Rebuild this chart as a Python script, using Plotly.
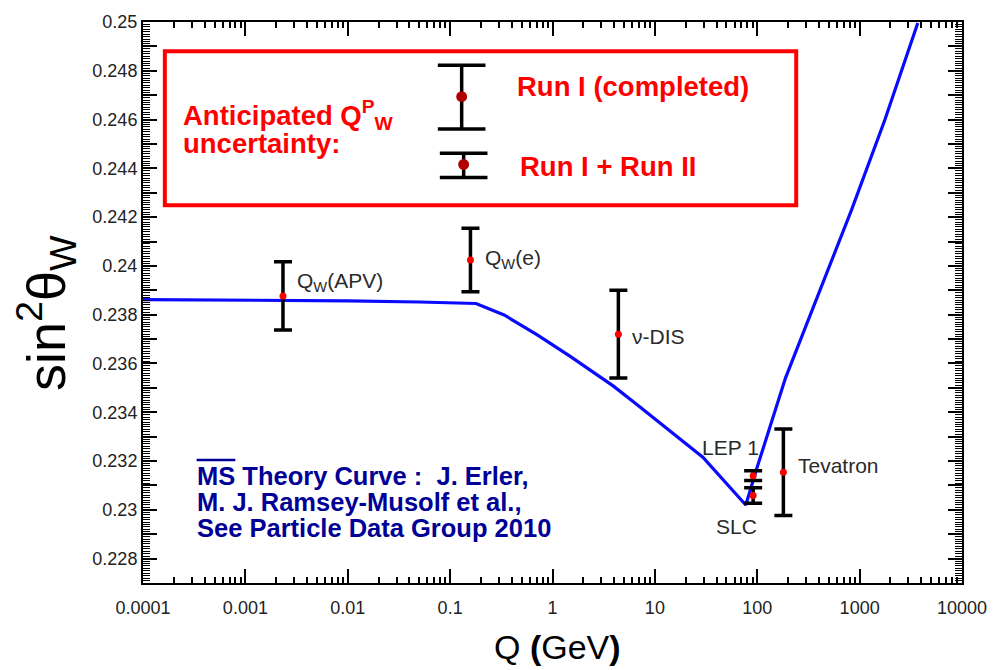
import plotly.graph_objects as go
import numpy as np

# ---------------- data ----------------
curve_Q = [1e-4, 1e-3, 1e-2, 0.05, 0.1, 0.179, 0.337, 0.71, 1.49, 3.94, 6.62,
           13.9, 29.4, 77.3, 100, 189, 396, 836, 1758, 3698]
curve_s2w = [0.23862, 0.23860, 0.23857, 0.23852, 0.23849, 0.23846, 0.23799,
             0.23717, 0.23629, 0.23507, 0.23433, 0.23325, 0.23216, 0.23020,
             0.23176, 0.23541, 0.23880, 0.24231, 0.24597, 0.24996]

pt_labels = ["Q<sub>W</sub>(APV)", "Q<sub>W</sub>(e)", "ν-DIS", "LEP 1", "SLC", "Tevatron"]
pt_Q = [0.00233, 0.158, 4.4, 91.2, 91.2, 180]
pt_s2w = [0.23877, 0.24024, 0.2372, 0.2314, 0.23059, 0.23154]
pt_err = [0.0014, 0.0013, 0.0018, 0.0002, 0.00032, 0.00177]

x_tickvals = [1e-4, 1e-3, 1e-2, 0.1, 1, 10, 100, 1000, 10000]
x_ticktext = ["0.0001", "0.001", "0.01", "0.1", "1", "10", "100", "1000", "10000"]
y_tickvals = [0.228, 0.23, 0.232, 0.234, 0.236, 0.238, 0.24, 0.242, 0.244, 0.246, 0.248, 0.25]
y_ticktext = ["0.228", "0.23", "0.232", "0.234", "0.236", "0.238", "0.24",
              "0.242", "0.244", "0.246", "0.248", "0.25"]
y_mid_ticks = [0.227, 0.229, 0.231, 0.233, 0.235, 0.237, 0.239, 0.241, 0.243,
               0.245, 0.247, 0.249]
x_minor = [m * 10.0 ** e for e in range(-4, 4) for m in range(2, 10)]

# ---------------- layout helpers (pixel -> paper) ----------------
W, H = 999, 670
X0, X1, Y0, Y1 = 143, 968, 17, 583
XR = [-4, 4]
YR = [0.227, 0.25]


def px(x):
    return (x - X0) / (X1 - X0)


def py(y):
    return (Y1 - y) / (Y1 - Y0)


FONT = "Liberation Sans, Arial, Helvetica, sans-serif"
RED = "#ff0000"
NAVY = "#000096"

fig = go.Figure()

fig.add_trace(go.Scatter(
    x=curve_Q, y=curve_s2w, mode="lines",
    line=dict(color="#0a0aff", width=3.2), hoverinfo="skip", showlegend=False))

fig.add_trace(go.Scatter(
    x=pt_Q, y=pt_s2w, mode="markers",
    marker=dict(color=RED, size=7, symbol="circle"),
    error_y=dict(type="data", array=pt_err, visible=True, color="black",
                 thickness=3.5, width=9),
    showlegend=False))

# empty traces so that the overlay tick axes get drawn
for xa, ya in [("x2", "y"), ("x3", "y"), ("x", "y2")]:
    fig.add_trace(go.Scatter(x=[None], y=[None], xaxis=xa, yaxis=ya,
                             showlegend=False, hoverinfo="skip"))

tickfont = dict(size=18, color="#222", family=FONT)
frame = dict(showgrid=False, zeroline=False, showline=True, linecolor="black",
             linewidth=2)
inside = dict(frame, mirror="ticks", ticks="inside", tickcolor="black",
              showticklabels=False)
# label axis: invisible outside ticks push the labels away from the frame
label_ax = dict(frame, mirror=True, ticks="outside", tickcolor="rgba(0,0,0,0)")

fig.update_layout(
    width=W, height=H,
    margin=dict(l=X0, r=W - X1, t=Y0, b=H - Y1),
    paper_bgcolor="white", plot_bgcolor="white",
    font=dict(family=FONT),
    xaxis=dict(type="log", range=XR, tickmode="array", tickvals=x_tickvals,
               ticktext=x_ticktext, ticklen=7, tickfont=tickfont, **label_ax),
    xaxis2=dict(type="log", range=XR, overlaying="x", anchor="y", side="bottom",
                tickmode="array", tickvals=x_tickvals, ticklen=14, tickwidth=1.6,
                **inside),
    xaxis3=dict(type="log", range=XR, overlaying="x", anchor="y", side="bottom",
                tickmode="array", tickvals=x_minor, ticklen=6, tickwidth=1.5,
                **inside),
    yaxis=dict(range=YR, tickmode="array", tickvals=y_tickvals, ticktext=y_ticktext,
               showgrid=False, zeroline=False, showline=True, linecolor="black",
               linewidth=2, mirror="ticks", ticks="inside", tickcolor="black",
               ticklen=14, tickwidth=1.6, tickfont=tickfont,
               minor=dict(tickmode="linear", tick0=0.227, dtick=0.0001,
                          ticks="inside", ticklen=7, tickwidth=1.3,
                          tickcolor="black", showgrid=False)),
    yaxis2=dict(range=YR, overlaying="y", anchor="x", side="left",
                tickmode="array", tickvals=y_mid_ticks, ticklen=14,
                tickwidth=1.6, **inside),
)

ann = []
# axis titles
ann.append(dict(text="sin<sup>2</sup>θ<sub>W</sub>", x=px(46), y=py(311),
                xref="paper", yref="paper", showarrow=False, textangle=-90,
                xanchor="center", yanchor="middle",
                font=dict(size=54, color="black", family=FONT)))
ann.append(dict(text="Q <b>(</b>GeV<b>)</b>", x=px(561), y=py(648),
                xref="paper", yref="paper", showarrow=False,
                xanchor="center", yanchor="middle",
                font=dict(size=34, color="black", family=FONT)))

# point labels (pixel positions of label left edge / vertical centre)
lab_pos = [(296, 279), (485, 256), (634, 334), (704, 446), (718, 526), (801, 464)]
for t, (lx, ly) in zip(pt_labels, lab_pos):
    ann.append(dict(text=t, x=px(lx), y=py(ly), xref="paper", yref="paper",
                    showarrow=False, xanchor="left", yanchor="middle",
                    font=dict(size=21, color="#2a2a2a", family=FONT)))

# blue theory text
blue_lines = ["MS Theory Curve :  J. Erler,", "M. J. Ramsey-Musolf et al.,",
              "See Particle Data Group 2010"]
for t, ly in zip(blue_lines, [475, 501.5, 527.5]):
    ann.append(dict(text="<b>" + t + "</b>", x=px(195), y=py(ly),
                    xref="paper", yref="paper", showarrow=False,
                    xanchor="left", yanchor="middle",
                    font=dict(size=25.5, color=NAVY, family=FONT)))

# legend text
leg_txt = [("Anticipated Q<sup>P</sup><sub>W</sub>", 181, 111),
           ("uncertainty:", 181, 140),
           ("Run I (completed)", 518, 82),
           ("Run I + Run II", 521, 163)]
for t, lx, ly in leg_txt:
    ann.append(dict(text="<b>" + t + "</b>", x=px(lx), y=py(ly),
                    xref="paper", yref="paper", showarrow=False,
                    xanchor="left", yanchor="middle",
                    font=dict(size=27.5, color=RED, family=FONT)))

fig.update_layout(annotations=ann)

shapes = []
# legend box
shapes.append(dict(type="rect", xref="paper", yref="paper",
                   x0=px(165), x1=px(801), y0=py(202), y1=py(46.5),
                   line=dict(color=RED, width=4), fillcolor="white", layer="above"))


def legend_bar(xc, ytop, ybot, ydot, half=24):
    s = []
    s.append(dict(type="line", xref="paper", yref="paper", x0=px(xc), x1=px(xc),
                  y0=py(ytop), y1=py(ybot), line=dict(color="black", width=3.5)))
    for yy in (ytop, ybot):
        s.append(dict(type="line", xref="paper", yref="paper",
                      x0=px(xc - half), x1=px(xc + half), y0=py(yy), y1=py(yy),
                      line=dict(color="black", width=3.5)))
    s.append(dict(type="circle", xref="paper", yref="paper",
                  x0=px(xc - 5.5), x1=px(xc + 5.5), y0=py(ydot + 5.5), y1=py(ydot - 5.5),
                  fillcolor="#b00000", line=dict(color="#b00000", width=0)))
    return s


shapes += legend_bar(464, 60.7, 125, 92.3)
shapes += legend_bar(466, 149.3, 174, 160.7)

# overline over "MS"
shapes.append(dict(type="line", xref="paper", yref="paper", x0=px(197), x1=px(236),
                   y0=py(459), y1=py(459), line=dict(color=NAVY, width=2.5)))

fig.update_layout(shapes=shapes)

fig.write_html("out.html")
